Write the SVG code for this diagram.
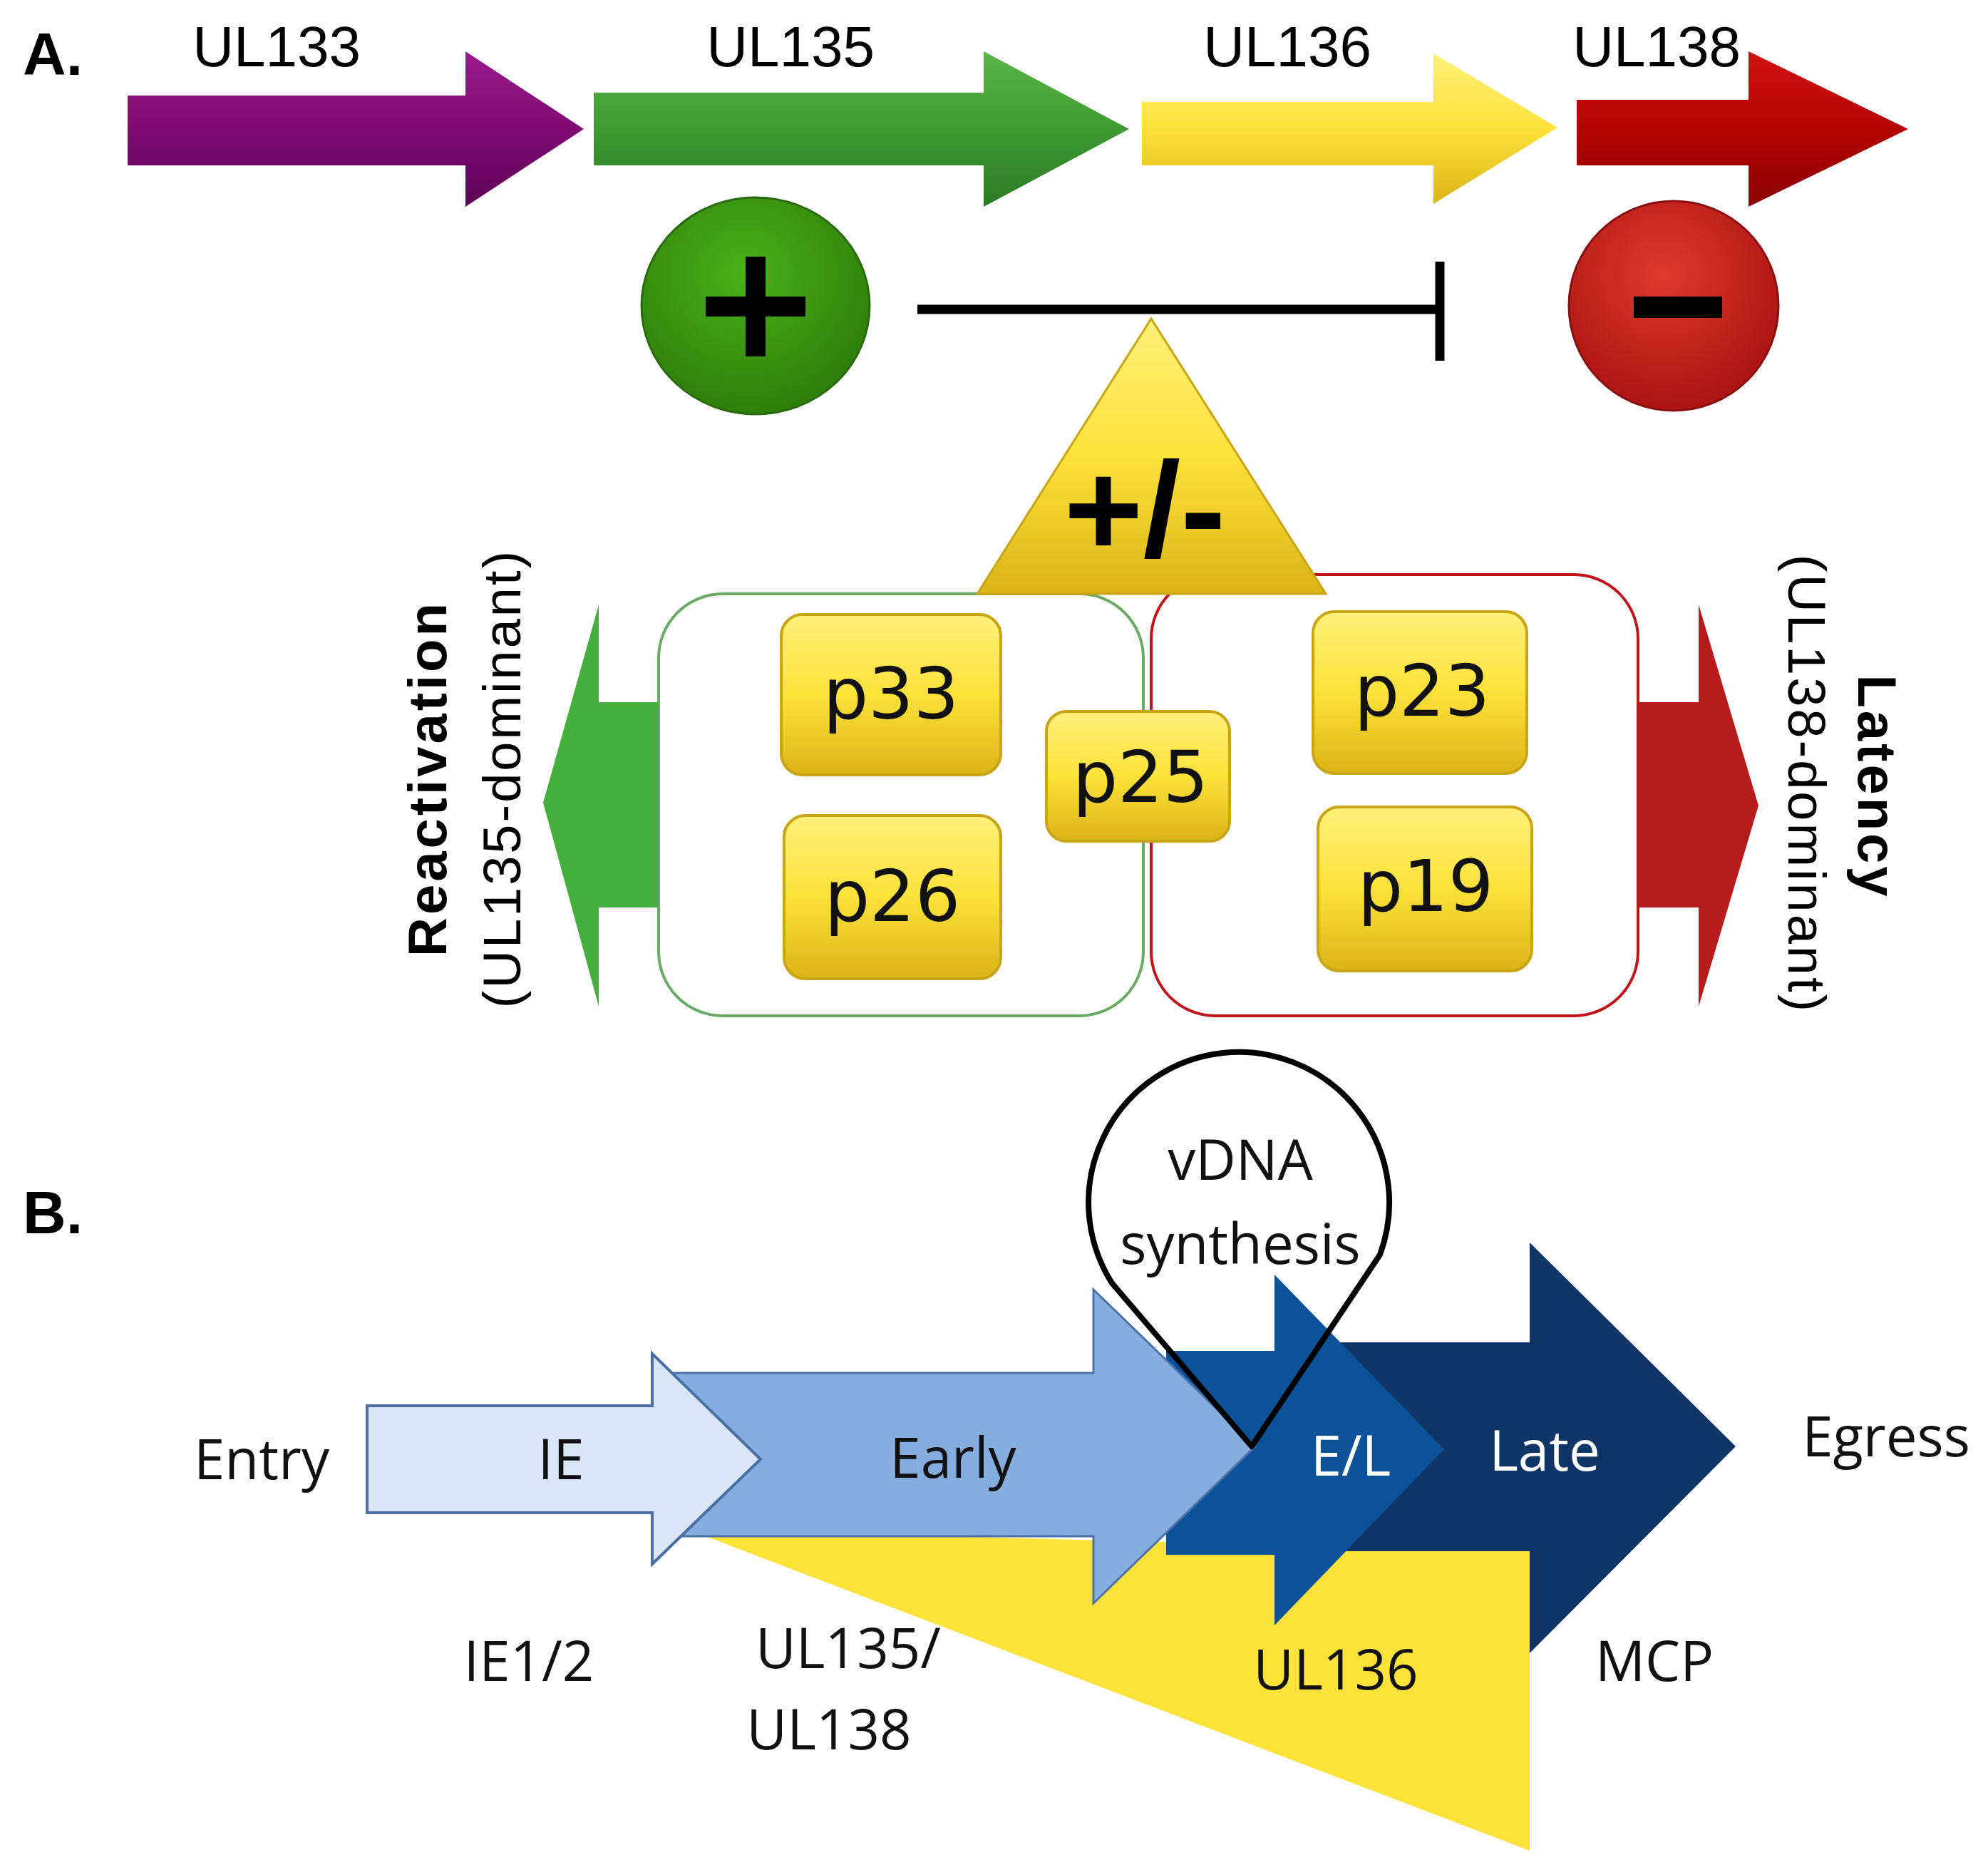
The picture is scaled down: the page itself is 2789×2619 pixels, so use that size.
<svg xmlns="http://www.w3.org/2000/svg" width="2789" height="2619" viewBox="0 0 2789 2619">
<defs>
<linearGradient id="gP" x1="0" y1="0" x2="0" y2="1"><stop offset="0" stop-color="#9a1a8c"/><stop offset="0.5" stop-color="#7f0a73"/><stop offset="1" stop-color="#5e0456"/></linearGradient>
<linearGradient id="gG" x1="0" y1="0" x2="0" y2="1"><stop offset="0" stop-color="#5cb548"/><stop offset="0.5" stop-color="#3f9a33"/><stop offset="1" stop-color="#2c7a25"/></linearGradient>
<linearGradient id="gY" x1="0" y1="0" x2="0" y2="1"><stop offset="0" stop-color="#fff07a"/><stop offset="0.5" stop-color="#fde23a"/><stop offset="1" stop-color="#d9b417"/></linearGradient>
<linearGradient id="gR" x1="0" y1="0" x2="0" y2="1"><stop offset="0" stop-color="#d01010"/><stop offset="0.5" stop-color="#b50404"/><stop offset="1" stop-color="#8a0202"/></linearGradient>
<radialGradient id="cG" cx="0.45" cy="0.35" r="0.7"><stop offset="0" stop-color="#4cb01a"/><stop offset="1" stop-color="#2a7a08"/></radialGradient>
<radialGradient id="cR" cx="0.45" cy="0.35" r="0.7"><stop offset="0" stop-color="#de3a2e"/><stop offset="1" stop-color="#a81010"/></radialGradient>
</defs>
<style>
.lab{font-family:"Liberation Sans",Arial,sans-serif;font-size:80px;text-anchor:middle;fill:#000}
.pt{font-family:"DejaVu Sans",sans-serif;font-size:100px;text-anchor:middle;fill:#111}
.pbox{fill:url(#gY);stroke:#c9a516;stroke-width:4}
.bl{font-family:"Open Sans","Liberation Sans",sans-serif;font-size:78px;text-anchor:middle;fill:#111}
.wt{fill:#fff}
.pl{font-family:"Liberation Sans",Arial,sans-serif;font-weight:bold;font-size:84px}
</style>
<text class="pl" x="32" y="105">A.</text>
<text class="pl" x="32" y="1730">B.</text>

<g id="ul133"><polygon points="179,134 653,134 653,72 819,181 653,290 653,232 179,232" fill="url(#gP)"/><text class="lab" x="388" y="93">UL133</text></g>
<g id="ul135"><polygon points="833,130 1380,130 1380,72 1584,181 1380,290 1380,232 833,232" fill="url(#gG)"/><text class="lab" x="1109" y="93">UL135</text></g>
<g id="ul136"><polygon points="1602,143 2011,143 2011,75 2185,179 2011,286 2011,232 1602,232" fill="url(#gY)"/><text class="lab" x="1806" y="93">UL136</text></g>
<g id="ul138"><polygon points="2212,140 2453,140 2453,72 2677,181 2453,290 2453,232 2212,232" fill="url(#gR)"/><text class="lab" x="2324" y="93">UL138</text></g>

<g id="plus"><ellipse cx="1060" cy="429" rx="160" ry="152" fill="url(#cG)" stroke="#2a6a10" stroke-width="3"/><rect x="1046" y="360" width="28" height="140" fill="#000"/><rect x="990" y="416" width="140" height="28" fill="#000"/></g>
<g id="minus"><ellipse cx="2348" cy="429" rx="147" ry="147" fill="url(#cR)" stroke="#8a1010" stroke-width="3"/><rect x="2292" y="416" width="124" height="30" fill="#000"/></g>

<g id="connectors"><line x1="1287" y1="434" x2="2020" y2="434" stroke="#000" stroke-width="13"/><line x1="2020" y1="367" x2="2020" y2="506" stroke="#000" stroke-width="13"/></g>

<g id="leftbox"><rect x="924" y="833" width="680" height="592" rx="90" fill="none" stroke="#6aaa64" stroke-width="4"/></g>
<g id="rightbox"><rect x="1615" y="806" width="683" height="619" rx="90" fill="none" stroke="#c0141a" stroke-width="4"/></g>

<g id="tri"><polygon points="1615,447 1860,833 1371,833" fill="url(#gY)" stroke="#c9a516" stroke-width="3"/><text x="1606" y="780" font-family="Liberation Sans,Arial,sans-serif" font-weight="bold" font-size="190" text-anchor="middle">+/-</text></g>

<g id="p33"><rect class="pbox" x="1096" y="862" width="308" height="225" rx="30"/><text class="pt" x="1250" y="1008">p33</text></g>
<g id="p26"><rect class="pbox" x="1100" y="1144" width="304" height="229" rx="30"/><text class="pt" x="1252" y="1292">p26</text></g>
<g id="p25"><rect class="pbox" x="1468" y="998" width="257" height="182" rx="28"/><text class="pt" x="1600" y="1125">p25</text></g>
<g id="p23"><rect class="pbox" x="1842" y="858" width="300" height="227" rx="30"/><text class="pt" x="1995" y="1004">p23</text></g>
<g id="p19"><rect class="pbox" x="1849" y="1132" width="300" height="230" rx="30"/><text class="pt" x="2000" y="1278">p19</text></g>

<g id="reactivation"><polygon points="924,985 840,985 840,848 762,1126 840,1412 840,1273 924,1273" fill="#45ae3c"/>
<text transform="translate(626,1092) rotate(-90)" font-family="Liberation Sans,Arial,sans-serif" font-weight="bold" font-size="76" letter-spacing="4" text-anchor="middle">Reactivation</text>
<text transform="translate(730,1092) rotate(-90)" font-family="Liberation Sans,Arial,sans-serif" font-size="74" letter-spacing="3" text-anchor="middle">(UL135-dominant)</text></g>
<g id="latency"><polygon points="2298,985 2383,985 2383,848 2467,1130 2383,1412 2383,1273 2298,1273" fill="#b71c1c"/>
<text transform="translate(2607,1104) rotate(90)" font-family="Liberation Sans,Arial,sans-serif" font-weight="bold" font-size="76" letter-spacing="4" text-anchor="middle">Latency</text>
<text transform="translate(2509,1100) rotate(90)" font-family="Liberation Sans,Arial,sans-serif" font-size="74" letter-spacing="3" text-anchor="middle">(UL138-dominant)</text></g>

<g id="yellow"><polygon points="966,2146 2146,2176 2146,2596" fill="#fde23a"/></g>
<g id="late"><polygon points="1877,1883 2146,1883 2146,1743 2435,2029 2146,2319 2146,2176 1877,2176" fill="#0e3566"/></g>
<g id="el"><polygon points="1636,1895 1788,1895 1788,1788 2026,2033 1788,2280 1788,2181 1636,2181" fill="#0b5299"/></g>
<g id="early"><polygon points="930,1926 1534,1926 1534,1809 1761,2029 1534,2249 1534,2155 930,2155" fill="#85aedf" stroke="#4a72a8" stroke-width="3"/></g>
<g id="ie"><polygon points="515,1972 915,1972 915,1899 1067,2047 915,2194 915,2122 515,2122" fill="#dae6f5" stroke="#4a6fa5" stroke-width="4"/></g>
<g id="vdna"><path d="M1756,2029 L1560,1800 A211,211 0 1 1 1936,1760 Z" fill="none" stroke="#000" stroke-width="8" stroke-linejoin="round"/>
<text class="bl" x="1740" y="1655">vDNA</text><text class="bl" x="1740" y="1773">synthesis</text></g>

<text class="bl" x="367" y="2075">Entry</text>
<text class="bl" x="787" y="2075">IE</text>
<text class="bl" x="1337" y="2073">Early</text>
<text class="bl wt" x="1895" y="2070">E/L</text>
<text class="bl wt" x="2167" y="2063">Late</text>
<text class="bl" x="2646" y="2043">Egress</text>
<text class="bl" x="742" y="2358">IE1/2</text>
<text class="bl" x="1190" y="2340">UL135/</text>
<text class="bl" x="1163" y="2454">UL138</text>
<text class="bl" x="1874" y="2370">UL136</text>
<text class="bl" x="2321" y="2358">MCP</text>
</svg>
